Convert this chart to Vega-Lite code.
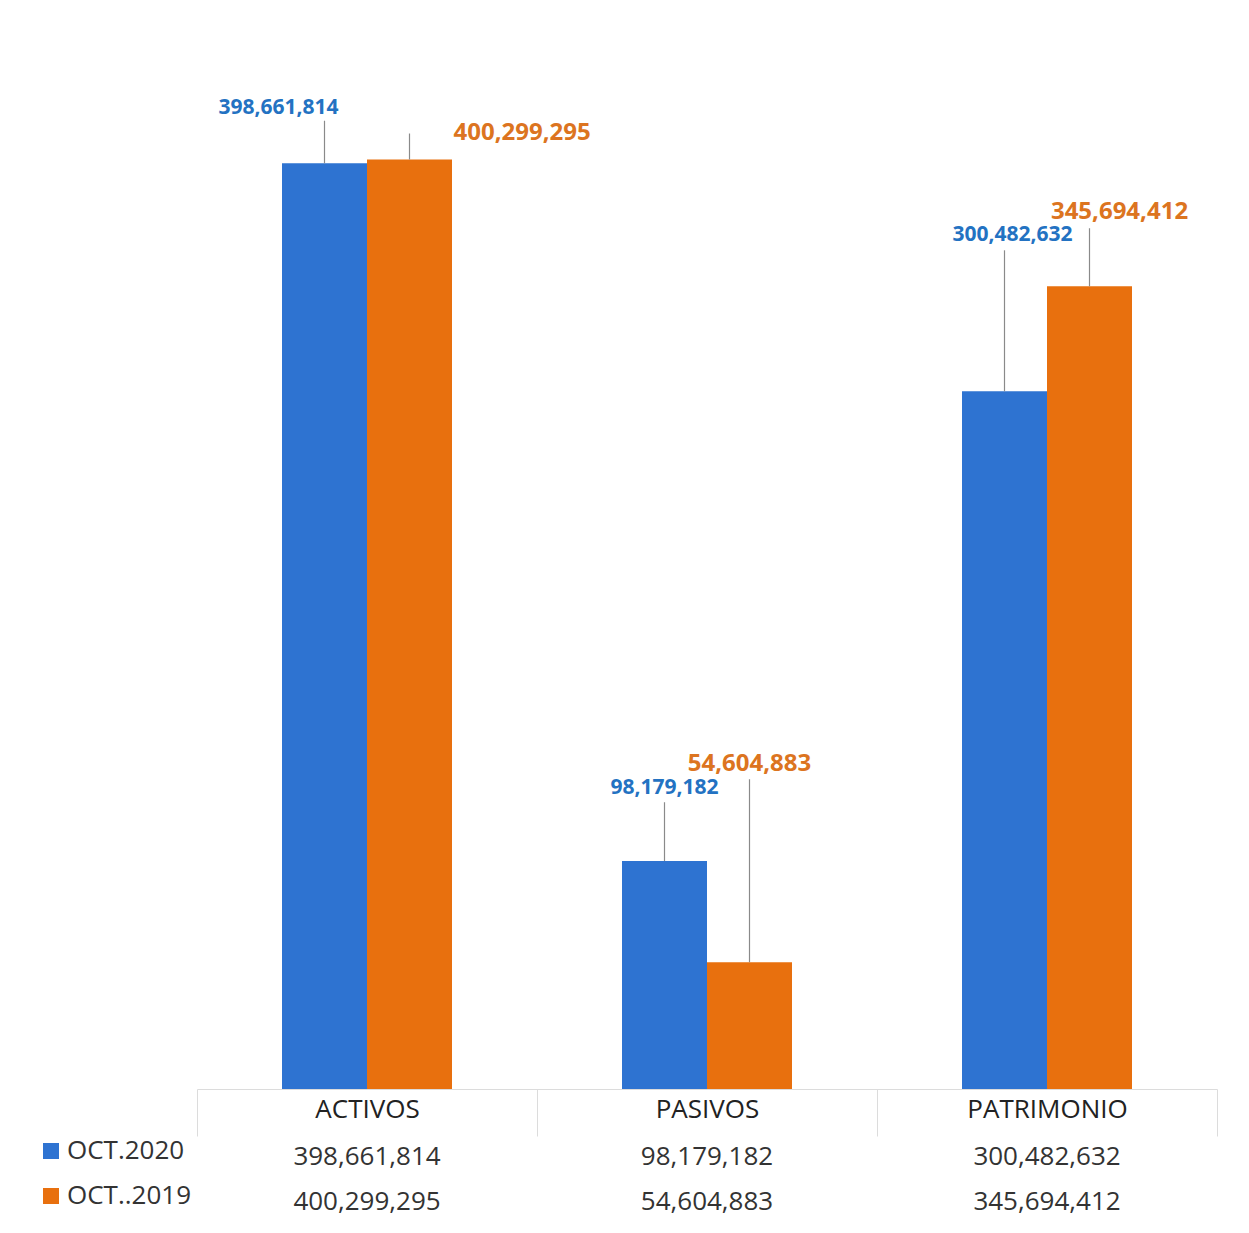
{
  "$schema": "https://vega.github.io/schema/vega-lite/v6.json",
  "background": "white",
  "padding": {"left": 38, "top": 0, "right": 0, "bottom": 0},
  "spacing": 0,
  "config": {"view": {"stroke": null}, "font": "Open Sans"},
  "datasets": {
    "fin": [
      {"cat": "ACTIVOS", "series": "OCT.2020", "value": 398661814, "callout": 417000000},
      {"cat": "ACTIVOS", "series": "OCT..2019", "value": 400299295, "callout": 411500000},
      {"cat": "PASIVOS", "series": "OCT.2020", "value": 98179182, "callout": 123500000},
      {"cat": "PASIVOS", "series": "OCT..2019", "value": 54604883, "callout": 133400000},
      {"cat": "PATRIMONIO", "series": "OCT.2020", "value": 300482632, "callout": 361200000},
      {"cat": "PATRIMONIO", "series": "OCT..2019", "value": 345694412, "callout": 370700000}
    ]
  },
  "vconcat": [
    {
      "width": 1020,
      "height": 1089,
      "data": {"name": "fin"},
      "encoding": {
        "x": {
          "field": "cat", "type": "nominal", "sort": ["ACTIVOS", "PASIVOS", "PATRIMONIO"],
          "scale": {"paddingInner": 0, "paddingOuter": 0},
          "axis": {
            "title": null, "labelAngle": 0, "domainColor": "#dcdcdc", "tickColor": "#dcdcdc",
            "tickBand": "extent", "tickSize": 47, "labelPadding": -40, "labelBaseline": "top",
            "labelFont": "Open Sans", "labelFontSize": 26, "labelColor": "#222"
          }
        },
        "xOffset": {
          "field": "series", "type": "nominal", "sort": ["OCT.2020", "OCT..2019"],
          "scale": {"paddingInner": 0, "paddingOuter": 1}
        }
      },
      "layer": [
        {
          "mark": {"type": "bar"},
          "encoding": {
            "y": {"field": "value", "type": "quantitative", "scale": {"domain": [0, 469000000], "nice": false}, "axis": null},
            "color": {
              "field": "series", "type": "nominal", "sort": ["OCT.2020", "OCT..2019"],
              "scale": {"range": ["#2E73D1", "#E8700E"]},
              "legend": {
                "title": null, "orient": "none", "legendX": -159, "legendY": 1138,
                "symbolType": "square", "symbolSize": 256, "symbolStrokeWidth": 0,
                "labelFont": "Open Sans", "labelFontSize": 26, "labelColor": "#333",
                "labelOffset": 3, "rowPadding": 19
              }
            }
          }
        },
        {
          "mark": {"type": "rule", "color": "#8a8a8a", "strokeWidth": 1.2},
          "encoding": {
            "y": {"field": "value", "type": "quantitative"},
            "y2": {"field": "callout"}
          }
        },
        {
          "transform": [{"filter": "datum.cat === 'ACTIVOS' && datum.series === 'OCT.2020'"}],
          "mark": {"type": "text", "fontWeight": "bold", "fontSize": 21, "baseline": "alphabetic", "dy": -7, "dx": -46, "color": "#2372C2"},
          "encoding": {"y": {"field": "callout", "type": "quantitative"}, "text": {"field": "value", "type": "quantitative", "format": ","}}
        },
        {
          "transform": [{"filter": "datum.cat === 'ACTIVOS' && datum.series === 'OCT..2019'"}],
          "mark": {"type": "text", "fontWeight": "bold", "fontSize": 24, "baseline": "alphabetic", "align": "left", "dy": 6, "dx": 44, "color": "#DC7420"},
          "encoding": {"y": {"field": "callout", "type": "quantitative"}, "text": {"field": "value", "type": "quantitative", "format": ","}}
        },
        {
          "transform": [{"filter": "datum.cat === 'PASIVOS' && datum.series === 'OCT.2020'"}],
          "mark": {"type": "text", "fontWeight": "bold", "fontSize": 21, "baseline": "alphabetic", "dy": -8, "color": "#2372C2"},
          "encoding": {"y": {"field": "callout", "type": "quantitative"}, "text": {"field": "value", "type": "quantitative", "format": ","}}
        },
        {
          "transform": [{"filter": "datum.cat === 'PASIVOS' && datum.series === 'OCT..2019'"}],
          "mark": {"type": "text", "fontWeight": "bold", "fontSize": 24, "baseline": "alphabetic", "dy": -8, "color": "#DC7420"},
          "encoding": {"y": {"field": "callout", "type": "quantitative"}, "text": {"field": "value", "type": "quantitative", "format": ","}}
        },
        {
          "transform": [{"filter": "datum.cat === 'PATRIMONIO' && datum.series === 'OCT.2020'"}],
          "mark": {"type": "text", "fontWeight": "bold", "fontSize": 21, "baseline": "alphabetic", "dy": -9, "dx": 8, "color": "#2372C2"},
          "encoding": {"y": {"field": "callout", "type": "quantitative"}, "text": {"field": "value", "type": "quantitative", "format": ","}}
        },
        {
          "transform": [{"filter": "datum.cat === 'PATRIMONIO' && datum.series === 'OCT..2019'"}],
          "mark": {"type": "text", "fontWeight": "bold", "fontSize": 24, "baseline": "alphabetic", "dy": -9, "dx": 30, "color": "#DC7420"},
          "encoding": {"y": {"field": "callout", "type": "quantitative"}, "text": {"field": "value", "type": "quantitative", "format": ","}}
        }
      ]
    },
    {
      "width": 1020,
      "height": 90,
      "data": {"name": "fin"},
      "mark": {"type": "text", "font": "Open Sans", "fontSize": 26, "color": "#333", "dy": -3},
      "encoding": {
        "x": {"field": "cat", "type": "nominal", "sort": ["ACTIVOS", "PASIVOS", "PATRIMONIO"], "scale": {"paddingInner": 0, "paddingOuter": 0}, "axis": null},
        "y": {"field": "series", "type": "nominal", "sort": ["OCT.2020", "OCT..2019"], "axis": null},
        "text": {"field": "value", "type": "quantitative", "format": ","}
      }
    }
  ]
}
